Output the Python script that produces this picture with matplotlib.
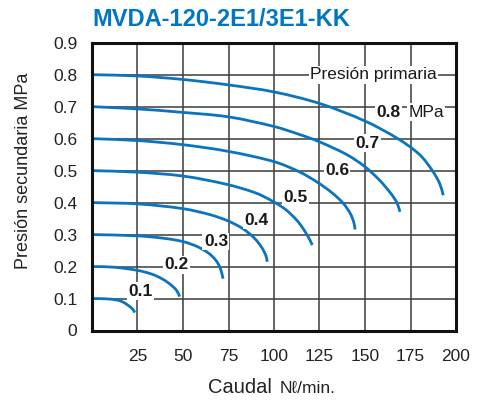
import math
import matplotlib
matplotlib.use("Agg")
import matplotlib.pyplot as plt
from matplotlib.path import Path
from matplotlib.patches import PathPatch

plt.rcParams['font.family'] = ['Liberation Sans', 'DejaVu Sans']

# Data (flow Nl/min, secondary pressure MPa)
primary = ["0.1", "0.2", "0.3", "0.4", "0.5", "0.6", "0.7", "0.8"]

flow_01 = [0, 8, 14, 17, 20, 22.3, 23.5]
p_01 = [0.100, 0.099, 0.095, 0.089, 0.078, 0.067, 0.056]

flow_02 = [0, 12, 25, 33, 39, 43.5, 46.5, 48.2]
p_02 = [0.200, 0.198, 0.188, 0.176, 0.160, 0.142, 0.125, 0.106]

flow_03 = [0, 25, 40, 50, 58, 64, 68, 70.5, 72]
p_03 = [0.300, 0.296, 0.288, 0.278, 0.262, 0.242, 0.220, 0.195, 0.162]

flow_04 = [0, 25, 50, 65, 75, 83, 89, 93, 95.5, 96.3]
p_04 = [0.400, 0.396, 0.381, 0.362, 0.342, 0.318, 0.290, 0.262, 0.235, 0.215]

flow_05 = [0, 25, 50, 74, 90, 99, 106, 112.5, 117, 120, 121]
p_05 = [0.500, 0.495, 0.483, 0.457, 0.430, 0.405, 0.380, 0.345, 0.310, 0.280, 0.267]

flow_06 = [0, 25, 50, 75, 100, 114, 124, 132, 138, 142, 144, 144.5]
p_06 = [0.600, 0.594, 0.581, 0.560, 0.528, 0.496, 0.463, 0.430, 0.398, 0.365, 0.335, 0.316]

flow_07 = [0, 25, 50, 75, 100, 114, 125, 140, 150, 158, 164, 167.5, 169.2]
p_07 = [0.700, 0.693, 0.682, 0.668, 0.638, 0.613, 0.590, 0.550, 0.512, 0.470, 0.430, 0.400, 0.371]

flow_08 = [0, 25, 50, 75, 100, 125, 150, 168, 180, 187, 191, 193]
p_08 = [0.800, 0.796, 0.785, 0.768, 0.746, 0.710, 0.655, 0.600, 0.550, 0.500, 0.460, 0.423]

flows = [flow_01, flow_02, flow_03, flow_04, flow_05, flow_06, flow_07, flow_08]
pressures = [p_01, p_02, p_03, p_04, p_05, p_06, p_07, p_08]

x_ticks = [25, 50, 75, 100, 125, 150, 175, 200]
y_ticks = [0, 0.1, 0.2, 0.3, 0.4, 0.5, 0.6, 0.7, 0.8, 0.9]
y_ticklabels = ["0", "0.1", "0.2", "0.3", "0.4", "0.5", "0.6", "0.7", "0.8", "0.9"]

# label anchor positions (data coords)
label_x = [26.7, 46.2, 68.1, 90.3, 112.0, 134.6, 151.6, 163.0]
label_y = [0.123, 0.205, 0.278, 0.344, 0.417, 0.500, 0.586, 0.683]

BLUE = "#0a74bf"


def smooth_path(xs, ys, sx=1.82, sy=320.0):
    """Smooth rendering of the read points: chord-length cubic Hermite as Bezier."""
    n = len(xs)
    t = [0.0]
    for i in range(1, n):
        t.append(t[-1] + math.hypot((xs[i] - xs[i - 1]) * sx, (ys[i] - ys[i - 1]) * sy))
    mx, my = [], []
    for i in range(n):
        a = max(i - 1, 0)
        b = min(i + 1, n - 1)
        dt = t[b] - t[a]
        mx.append((xs[b] - xs[a]) / dt)
        my.append((ys[b] - ys[a]) / dt)
    verts = [(xs[0], ys[0])]
    codes = [Path.MOVETO]
    for i in range(n - 1):
        h = (t[i + 1] - t[i]) / 3.0
        verts += [(xs[i] + mx[i] * h, ys[i] + my[i] * h),
                  (xs[i + 1] - mx[i + 1] * h, ys[i + 1] - my[i + 1] * h),
                  (xs[i + 1], ys[i + 1])]
        codes += [Path.CURVE4] * 3
    return Path(verts, codes)


fig = plt.figure(figsize=(4.85, 4.03), dpi=100)
ax = fig.add_axes([92/485, 1 - 330.5/403, (456 - 92)/485, (330.5 - 42.7)/403])

for fx, py in zip(flows, pressures):
    patch = PathPatch(smooth_path(fx, py), facecolor='none', edgecolor=BLUE, lw=2.0,
                      capstyle='butt', joinstyle='round', zorder=3)
    ax.add_patch(patch)

ax.set_xlim(0, 200)
ax.set_ylim(0, 0.9)
ax.set_xticks([0] + x_ticks)
ax.set_xticklabels([""] + [str(v) for v in x_ticks])
ax.set_yticks(y_ticks)
ax.set_yticklabels(y_ticklabels)
ax.grid(True, color="#3c3c3c", lw=1.1, zorder=1)
ax.set_axisbelow(True)
ax.tick_params(axis='both', length=0, labelsize=12.5, colors="#222222")
ax.tick_params(axis='x', pad=13)
ax.tick_params(axis='y', pad=10.5)
for s in ax.spines.values():
    s.set_color("#111111")
    s.set_linewidth(2.2)
    s.set_zorder(4)

bbox = dict(facecolor='white', edgecolor='none', pad=1.0)
for i, lab in enumerate(primary):
    ax.text(label_x[i], label_y[i], lab, fontsize=12.5, fontweight='bold', color="#1a1a1a",
            ha='center', va='center', bbox=bbox, zorder=5)
ax.text(183.5, 0.683, "MPa", fontsize=12.5, color="#1a1a1a", ha='center', va='center',
        bbox=bbox, zorder=5)
ax.text(154.7, 0.800, "Presión primaria", fontsize=12.5, color="#1a1a1a", ha='center', va='center',
        bbox=bbox, zorder=5)

fig.text(92/485, 1 - 19/403, "MVDA-120-2E1/3E1-KK", fontsize=17, fontweight='bold',
         color="#0077c0", ha='left', va='center')
fig.text(24/485, 1 - 171/403, "Presión secundaria MPa", fontsize=13, rotation=90,
         color="#222222", ha='center', va='center')
fig.text(208/485, 1 - 393/403, "Caudal", fontsize=14.5, color="#222222", ha='left', va='baseline')
fig.text(280/485, 1 - 393/403, "Nℓ/min.", fontsize=12.5, color="#222222", ha='left', va='baseline')

fig.savefig("out.png", dpi=100)
